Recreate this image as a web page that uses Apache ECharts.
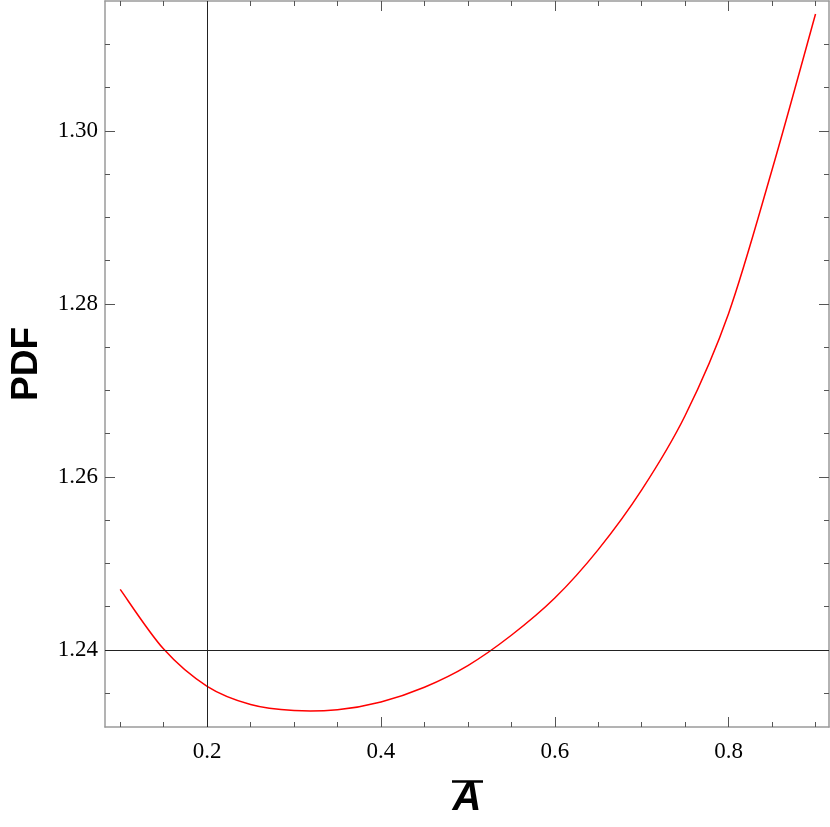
<!DOCTYPE html>
<html>
<head>
<meta charset="utf-8">
<script src="https://cdn.jsdelivr.net/npm/echarts@6/dist/echarts.min.js"></script>
<style>
  html, body { margin: 0; padding: 0; background: #fff; }
  #chart { width: 830px; height: 827px; }
</style>
</head>
<body>
<div id="chart"></div>
<script>
// curve
var aBar = [0.10, 0.15, 0.20, 0.25, 0.30, 0.35, 0.40, 0.45, 0.50,
  0.55, 0.60, 0.65, 0.70, 0.75, 0.80, 0.85, 0.90];
var pdf = [1.2470, 1.2401, 1.2358, 1.2337, 1.2330, 1.2331, 1.2340, 1.2357, 1.2382,
  1.2417, 1.2460, 1.2516, 1.2585, 1.2671, 1.2789, 1.2955, 1.3135];

var xMajor = [0.2, 0.4, 0.6, 0.8];
var xMinor = [0.1, 0.15, 0.25, 0.3, 0.35, 0.45, 0.5, 0.55, 0.65, 0.7, 0.75, 0.85, 0.9];
var yMajor = [1.24, 1.26, 1.28, 1.30];
var yMinor = [1.235, 1.245, 1.25, 1.255, 1.265, 1.27, 1.275, 1.285, 1.29, 1.295, 1.305, 1.31];

var xRange = [0.0825, 0.9155];
var yRange = [1.2311, 1.3150];

var frameColor = '#9a9a9a';
var tickColor = '#555';
var labelFont = { fontFamily: 'Liberation Serif', fontSize: 23, color: '#000' };

function $extend(a, b) {
  Object.keys(b).forEach(function (k) { a[k] = b[k]; });
  return a;
}

// one axis = one set of inward ticks (major or minor) on one side of the frame
function tickAxis(dim, pos, values, len, opts) {
  var ax = {
    type: 'value',
    position: pos,
    min: dim === 'x' ? xRange[0] : yRange[0],
    max: dim === 'x' ? xRange[1] : yRange[1],
    splitLine: { show: false },
    axisLine: { show: !!opts.line, onZero: false, lineStyle: { color: frameColor, width: 1.5 } },
    axisTick: { show: true, inside: true, length: len, customValues: values, lineStyle: { color: tickColor, width: 1 } },
    axisLabel: { show: false }
  };
  if (opts.labels) {
    ax.axisLabel = $extend({
      show: true,
      customValues: values,
      margin: opts.margin,
      formatter: function (v) { return v.toFixed(opts.digits); }
    }, labelFont);
  }
  if (opts.name) {
    ax.name = opts.name;
    ax.nameLocation = 'middle';
    ax.nameGap = opts.nameGap;
    ax.nameRotate = opts.nameRotate || 0;
    ax.nameTextStyle = opts.nameStyle;
  }
  return ax;
}

// Catmull-Rom curve through the data points, in pixel space
function renderCurve(params, api) {
  if (params.dataIndex !== 0) return null;
  var p = aBar.map(function (a, i) { return api.coord([a, pdf[i]]); });
  var n = p.length;
  var d = 'M' + p[0][0] + ' ' + p[0][1];
  for (var i = 0; i < n - 1; i++) {
    var p0 = p[i > 0 ? i - 1 : i];
    var p1 = p[i];
    var p2 = p[i + 1];
    var p3 = p[i + 2 < n ? i + 2 : i + 1];
    var c1x = p1[0] + (p2[0] - p0[0]) / 6, c1y = p1[1] + (p2[1] - p0[1]) / 6;
    var c2x = p2[0] - (p3[0] - p1[0]) / 6, c2y = p2[1] - (p3[1] - p1[1]) / 6;
    d += ' C' + c1x + ' ' + c1y + ' ' + c2x + ' ' + c2y + ' ' + p2[0] + ' ' + p2[1];
  }
  return {
    type: 'path',
    shape: { pathData: d },
    style: { stroke: '#ff0000', fill: null, lineWidth: 1.5 }
  };
}

var chart = echarts.init(document.getElementById('chart'));

var option = {
  animation: false,
  backgroundColor: '#fff',
  grid: { left: 103, right: 1, top: 1, bottom: 100 },
  xAxis: [
    tickAxis('x', 'bottom', xMajor, 10, {
      line: true, labels: true, margin: 13, digits: 1,
      name: 'A', nameGap: 52,
      nameStyle: { fontFamily: 'Liberation Sans', fontSize: 40, fontWeight: 'bold', fontStyle: 'italic', color: '#000' }
    }),
    tickAxis('x', 'bottom', xMinor, 5, {}),
    tickAxis('x', 'top', xMajor, 10, { line: true }),
    tickAxis('x', 'top', xMinor, 5, {})
  ],
  yAxis: [
    tickAxis('y', 'left', yMajor, 10, {
      line: true, labels: true, margin: 7, digits: 2,
      name: 'PDF', nameGap: 60, nameRotate: 90,
      nameStyle: { fontFamily: 'Liberation Sans', fontSize: 37, fontWeight: 'bold', color: '#000' }
    }),
    tickAxis('y', 'left', yMinor, 5, {}),
    tickAxis('y', 'right', yMajor, 10, { line: true }),
    tickAxis('y', 'right', yMinor, 5, {})
  ],
  series: [{
    type: 'custom',
    coordinateSystem: 'cartesian2d',
    data: aBar.map(function (a, i) { return [a, pdf[i]]; }),
    renderItem: renderCurve,
    silent: true,
    markLine: {
      silent: true,
      symbol: 'none',
      label: { show: false },
      lineStyle: { color: '#222', width: 1, type: 'solid' },
      data: [{ xAxis: 0.2 }, { yAxis: 1.24 }]
    }
  }],
  graphic: [{
    // overbar on the axis name
    type: 'line',
    shape: { x1: 452, y1: 781.5, x2: 483, y2: 781.5 },
    style: { stroke: '#000', lineWidth: 2.5 }
  }]
};

chart.setOption(option);
</script>
</body>
</html>
